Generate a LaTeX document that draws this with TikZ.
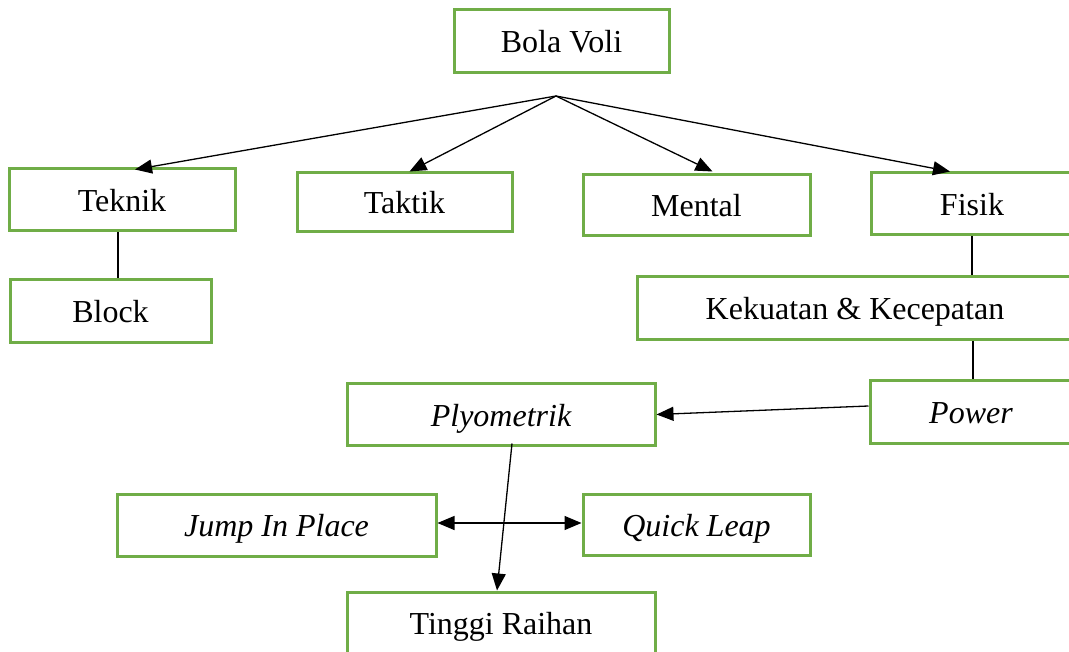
\documentclass[tikz,border=0pt]{standalone}
\usepackage{fontspec}
\setmainfont{Liberation Serif}
\usetikzlibrary{arrows.meta,calc}
\definecolor{boxgreen}{RGB}{112,173,71}
\tikzset{
  box/.style={draw=boxgreen, line width=3pt, fill=white, inner sep=0pt,
    text height=23pt, text depth=0pt,
    font=\fontsize{32}{36}\selectfont},
  conn/.style={draw=black, line width=1.3pt},
  arr/.style={conn, -{Triangle[length=17pt,width=14pt]}},
  darr/.style={conn, {Triangle[length=17pt,width=14pt]}-{Triangle[length=17pt,width=14pt]}}
}
\begin{document}
\begin{tikzpicture}[x=1pt,y=-1pt]
\useasboundingbox (0,0) rectangle (1069,652);
\node[box, minimum width=215pt, minimum height=63pt] (bola) at (561.5,41.5) {Bola Voli};
\node[box, minimum width=226pt, minimum height=62pt] (teknik) at (122,200) {Teknik};
\node[box, minimum width=215pt, minimum height=59pt] (taktik) at (404.5,202.5) {Taktik};
\node[box, minimum width=227pt, minimum height=61pt] (mental) at (696.5,205.5) {Mental};
\node[box, minimum width=202pt, minimum height=62pt] (fisik) at (972,204) {Fisik};
\node[box, minimum width=201pt, minimum height=63pt] (block) at (110.5,311.5) {Block};
\node[box, minimum width=436pt, minimum height=63pt] (kek) at (855,308.5) {Kekuatan \& Kecepatan};
\node[box, minimum width=202pt, minimum height=62pt] (power) at (971,412) {\itshape Power};
\node[box, minimum width=308pt, minimum height=61pt] (plyo) at (501,414.5) {\itshape Plyometrik};
\node[box, minimum width=319pt, minimum height=62pt] (jump) at (276.5,525) {\itshape Jump In Place};
\node[box, minimum width=227pt, minimum height=61pt] (quick) at (696.5,525) {\itshape Quick Leap};
\node[box, minimum width=308pt, minimum height=62pt] (tinggi) at (501,623) {Tinggi Raihan};
\coordinate (hub) at (556,96);
\draw[arr] (hub) -- ([xshift=13pt,yshift=-2pt]teknik.north);
\draw[arr] (hub) -- ([xshift=5pt]taktik.north);
\draw[arr] (hub) -- ([xshift=16pt,yshift=2pt]mental.north);
\draw[arr] (hub) -- ([xshift=-22pt]fisik.north);
\draw[conn] (teknik.south -| 118,0) -- (block.north -| 118,0);
\draw[conn] (fisik.south -| 972,0) -- (kek.north -| 972,0);
\draw[conn] (kek.south -| 973,0) -- (power.north -| 973,0);
\draw[arr] ([yshift=6pt]power.west) -- (plyo.east);
\draw[arr] ([xshift=11pt,yshift=3pt]plyo.south) -- ([xshift=-4pt]tinggi.north);
\draw[darr] ([yshift=2pt]jump.east) -- ([yshift=2pt]quick.west);
\end{tikzpicture}
\end{document}
